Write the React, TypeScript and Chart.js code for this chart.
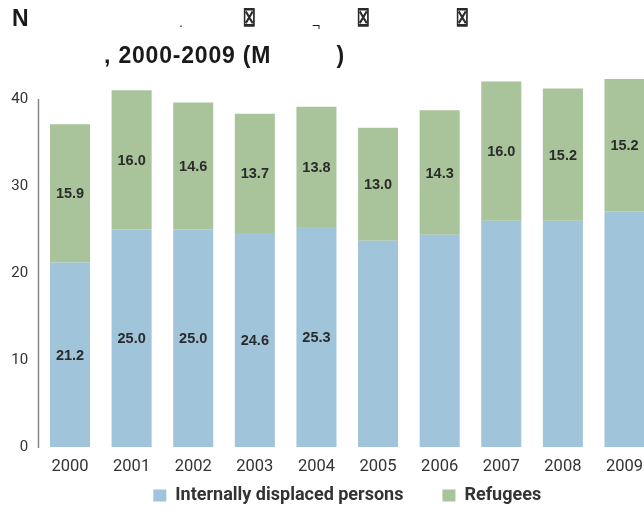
import React, { useEffect, useRef } from "react";
import { Chart, registerables } from "chart.js";

Chart.register(...registerables);

// ---- data ----
const years = ["2000", "2001", "2002", "2003", "2004", "2005", "2006", "2007", "2008", "2009"];
const idpValues = [21.2, 25.0, 25.0, 24.6, 25.3, 23.7, 24.4, 26.0, 26.0, 27.1];
const refugeeValues = [15.9, 16.0, 14.6, 13.7, 13.8, 13.0, 14.3, 16.0, 15.2, 15.2];
const idpLabelShown = [true, true, true, true, true, false, false, false, false, false];
const refugeeLabelShown = [true, true, true, true, true, true, true, true, true, true];
const yTicks = [0, 10, 20, 30, 40];
const seriesNames = ["Internally displaced persons", "Refugees"];

// ---- styles ----
const IDP_COLOR = "#A0C4D9";
const REF_COLOR = "#A9C49A";
const UI = "Roboto, 'Liberation Sans', Arial, sans-serif";
const SANS = "'Liberation Sans', Arial, Helvetica, sans-serif";
const TEXT = "#333333";
const LEGEND_FONT = 18;
const LEGEND_PAD = 39;
const LEGEND_TEXT_Y = 495.5;

const valueLabelsPlugin = {
  id: "valueLabels",
  afterDatasetsDraw(chart: any) {
    const ctx = chart.ctx;
    const shown = [idpLabelShown, refugeeLabelShown];
    ctx.save();
    ctx.font = `bold 14.5px ${SANS}`;
    ctx.fillStyle = "#2b2b2b";
    ctx.textAlign = "center";
    ctx.textBaseline = "middle";
    chart.data.datasets.forEach((ds: any, di: number) => {
      const meta = chart.getDatasetMeta(di);
      meta.data.forEach((bar: any, i: number) => {
        if (!shown[di][i]) return;
        const v = ds.data[i] as number;
        const cy = (bar.y + bar.base) / 2;
        ctx.fillText(v.toFixed(1), bar.x, cy + 1);
      });
    });
    ctx.restore();
  },
};

const axisLinePlugin = {
  id: "axisLine",
  afterDatasetsDraw(chart: any) {
    const ctx = chart.ctx;
    const y = chart.scales.y;
    const x = Math.round(chart.chartArea.left) - 0.5;
    ctx.save();
    ctx.strokeStyle = "#808080";
    ctx.lineWidth = 1.4;
    ctx.beginPath();
    ctx.moveTo(x, y.getPixelForValue(yTicks[yTicks.length - 1]));
    ctx.lineTo(x, y.getPixelForValue(0) + 1);
    ctx.stroke();
    ctx.restore();
  },
};

// The built-in legend uses one padding for both directions; move its box so the
// row sits where the reference has it, and give the box room so nothing is clipped.
const legendPlacePlugin = {
  id: "legendPlace",
  afterLayout(chart: any) {
    const lg = chart.legend;
    if (!lg) return;
    const wantTop = LEGEND_TEXT_Y - LEGEND_FONT / 2 - LEGEND_PAD;
    lg.top = wantTop;
    lg.height = LEGEND_PAD + LEGEND_FONT + 12;
    lg.bottom = lg.top + lg.height;
  },
};

const titlePlugin = {
  id: "brokenTitle",
  afterDraw(chart: any) {
    const ctx = chart.ctx;
    ctx.save();
    ctx.fillStyle = "#1a1a1a";
    ctx.textBaseline = "alphabetic";
    ctx.textAlign = "left";
    ctx.font = `bold 23px ${SANS}`;
    ctx.fillText("N", 12, 26);
    try {
      (ctx as any).letterSpacing = "0.8px";
    } catch (e) {}
    ctx.fillText(", 2000-2009 (M", 104, 63);
    try {
      (ctx as any).letterSpacing = "0px";
    } catch (e) {}
    ctx.fillText(")", 336.5, 63);
    ctx.font = `14px ${SANS}`;
    ctx.fillText(".", 179, 27);
    ctx.fillText("¬", 312, 31);
    ctx.fillStyle = "#2a2a2a";
    ctx.strokeStyle = "#2a2a2a";
    ctx.lineWidth = 1;
    ctx.font = `bold 18px 'DejaVu Sans', sans-serif`;
    [243, 357, 456].forEach((bx) => {
      ctx.save();
      ctx.translate(bx, 26);
      ctx.scale(0.78, 1.32);
      ctx.fillText("☒", 0, 0);
      ctx.strokeText("☒", 0, 0);
      ctx.restore();
    });
    ctx.restore();
  },
};

export default function App() {
  const canvasRef = useRef<HTMLCanvasElement | null>(null);

  useEffect(() => {
    const canvas = canvasRef.current;
    if (!canvas) return;
    const chart = new Chart(canvas, {
      type: "bar",
      data: {
        labels: years,
        datasets: [
          {
            label: seriesNames[0],
            data: idpValues,
            backgroundColor: IDP_COLOR,
            borderWidth: 0,
            barPercentage: 0.65,
            categoryPercentage: 1,
          },
          {
            label: seriesNames[1],
            data: refugeeValues,
            backgroundColor: REF_COLOR,
            borderWidth: 0,
            barPercentage: 0.65,
            categoryPercentage: 1,
          },
        ],
      },
      options: {
        animation: false,
        responsive: false,
        devicePixelRatio: 1,
        layout: { padding: { left: 0, right: 24.7, top: 55.5, bottom: 0 } },
        scales: {
          x: {
            stacked: true,
            grid: { display: false, drawTicks: false },
            border: { display: false },
            ticks: {
              font: { family: UI, size: 16.5 },
              color: TEXT,
              padding: 9.5,
              maxRotation: 0,
              autoSkip: false,
            },
            afterFit: (s: any) => {
              s.height = 28;
            },
          },
          y: {
            stacked: true,
            min: 0,
            max: 45,
            grid: { display: false, drawTicks: false },
            border: { display: false },
            ticks: {
              font: { family: UI, size: 15 },
              color: TEXT,
              padding: 11,
            },
            afterBuildTicks: (s: any) => {
              s.ticks = yTicks.map((v) => ({ value: v }));
            },
            afterFit: (s: any) => {
              s.width = 39.2;
            },
          },
        },
        plugins: {
          legend: {
            position: "bottom",
            fullSize: false,
            maxHeight: 38,
            labels: {
              boxWidth: 13,
              boxHeight: 12,
              padding: LEGEND_PAD,
              color: TEXT,
              font: { family: UI, size: LEGEND_FONT, weight: "bold" },
            },
          },
          title: { display: false },
          tooltip: { enabled: false },
        },
      } as any,
      plugins: [valueLabelsPlugin, axisLinePlugin, legendPlacePlugin, titlePlugin],
    });
    return () => chart.destroy();
  }, []);

  return (
    <div
      style={{
        position: "fixed",
        left: 0,
        top: 0,
        width: 644,
        height: 513,
        overflow: "hidden",
        background: "#ffffff",
      }}
    >
      <canvas
        ref={canvasRef}
        width={680}
        height={513}
        style={{ display: "block", width: 680, height: 513 }}
      />
    </div>
  );
}
